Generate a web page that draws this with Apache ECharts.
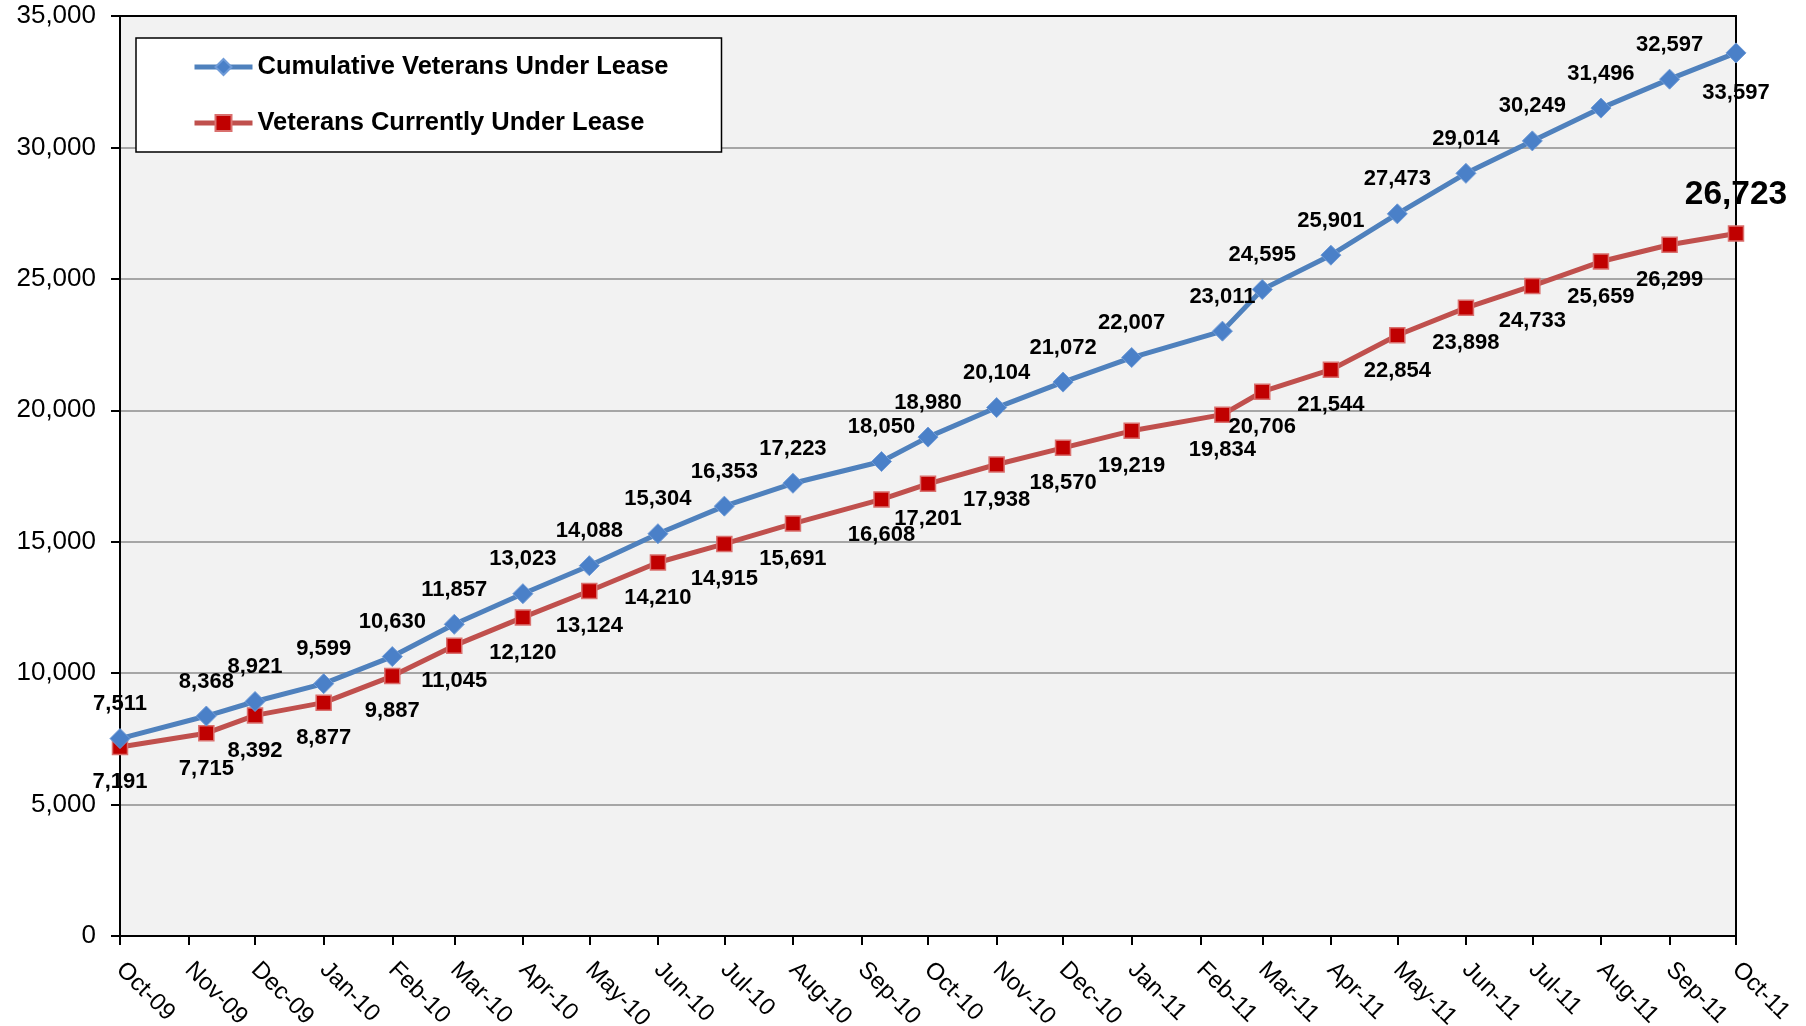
<!DOCTYPE html>
<html>
<head>
<meta charset="utf-8">
<script src="https://cdn.jsdelivr.net/npm/echarts@6/dist/echarts.min.js"></script>
<style>
  html, body { margin: 0; padding: 0; background: #ffffff; }
  #chart { width: 1806px; height: 1026px; }
</style>
</head>
<body>
<div id="chart"></div>
<script>
// ---- Data ----
const tickLabels = ['Oct-09','Nov-09','Dec-09','Jan-10','Feb-10','Mar-10','Apr-10','May-10','Jun-10','Jul-10','Aug-10','Sep-10','Oct-10','Nov-10','Dec-10','Jan-11','Feb-11','Mar-11','Apr-11','May-11','Jun-11','Jul-11','Aug-11','Sep-11','Oct-11'];
const pointDates = ['2009-10-01','2009-11-09','2009-12-01','2010-01-01','2010-02-01','2010-03-01','2010-04-01','2010-05-01','2010-06-01','2010-07-01','2010-08-01','2010-09-10','2010-10-01','2010-11-01','2010-12-01','2011-01-01','2011-02-11','2011-03-01','2011-04-01','2011-05-01','2011-06-01','2011-07-01','2011-08-01','2011-09-01','2011-10-01'];
const cumulativeVeterans = [7511, 8368, 8921, 9599, 10630, 11857, 13023, 14088, 15304, 16353, 17223, 18050, 18980, 20104, 21072, 22007, 23011, 24595, 25901, 27473, 29014, 30249, 31496, 32597, 33597];
const currentVeterans = [7191, 7715, 8392, 8877, 9887, 11045, 12120, 13124, 14210, 14915, 15691, 16608, 17201, 17938, 18570, 19219, 19834, 20706, 21544, 22854, 23898, 24733, 25659, 26299, 26723];
const seriesNames = ['Cumulative Veterans Under Lease', 'Veterans Currently Under Lease'];
const yTicks = { min: 0, max: 35000, interval: 5000 };

// ---- Helpers ----
const DAY = 86400000;
const MONTHS = ['Jan','Feb','Mar','Apr','May','Jun','Jul','Aug','Sep','Oct','Nov','Dec'];
function dateStrToDay(s) { const p = s.split('-').map(Number); return Math.round(Date.UTC(p[0], p[1] - 1, p[2]) / DAY); }
function labelToDay(l) { const p = l.split('-'); return Math.round(Date.UTC(2000 + Number(p[1]), MONTHS.indexOf(p[0]), 1) / DAY); }
const tickDays = tickLabels.map(labelToDay);
const pointDays = pointDates.map(dateStrToDay);
const fmt = v => Number(v).toLocaleString('en-US');

const FONT = "'Liberation Sans', Arial, sans-serif";

function buildData(values, lastLabel) {
  return values.map((v, i) => {
    const item = { value: [pointDays[i], v] };
    if (i === values.length - 1 && lastLabel) item.label = lastLabel;
    return item;
  });
}

const chart = echarts.init(document.getElementById('chart'), null, { renderer: 'canvas' });
const option = {
  animation: false,
  backgroundColor: '#ffffff',
  textStyle: { fontFamily: FONT },
  grid: {
    left: 120, right: 70, top: 16, bottom: 90,
    outerBoundsMode: 'none', containLabel: false,
    show: true, backgroundColor: '#f2f2f2', borderColor: '#000', borderWidth: 1.5
  },
  legend: {
    orient: 'vertical',
    left: 136, top: 38,
    padding: [14, 53, 14, 56],
    itemGap: 26,
    itemWidth: 58, itemHeight: 20,
    backgroundColor: '#ffffff',
    borderColor: '#000', borderWidth: 1.5,
    lineStyle: { width: 5 },
    textStyle: { fontFamily: FONT, fontWeight: 'bold', fontSize: 25.5, color: '#000', lineHeight: 30 },
    data: seriesNames
  },
  xAxis: [{
    type: 'value',
    min: tickDays[0], max: tickDays[tickDays.length - 1],
    axisLine: { show: true, onZero: false, lineStyle: { color: '#000', width: 2 } },
    axisTick: { show: true, customValues: tickDays, length: 9, lineStyle: { color: '#000', width: 2 } },
    axisLabel: {
      customValues: tickDays,
      rotate: -45, margin: 30,
      fontFamily: FONT, fontSize: 24, color: '#000',
      formatter: (val) => { const i = tickDays.indexOf(val); return i >= 0 ? tickLabels[i] : ''; }
    },
    splitLine: { show: false }
  }, {
    type: 'value', position: 'top',
    min: tickDays[0], max: tickDays[tickDays.length - 1],
    axisLine: { show: true, onZero: false, lineStyle: { color: '#000', width: 2 } },
    axisTick: { show: false }, axisLabel: { show: false }, splitLine: { show: false }
  }],
  yAxis: [{
    type: 'value',
    min: yTicks.min, max: yTicks.max, interval: yTicks.interval,
    axisLine: { show: true, lineStyle: { color: '#000', width: 2 } },
    axisTick: { show: true, length: 9, lineStyle: { color: '#000', width: 2 } },
    axisLabel: { margin: 24, fontFamily: FONT, fontSize: 26, color: '#000', formatter: fmt },
    splitLine: { show: true, lineStyle: { color: '#8c8c8c', width: 1.5 } }
  }, {
    type: 'value', position: 'right',
    min: yTicks.min, max: yTicks.max, interval: yTicks.interval,
    axisLine: { show: true, lineStyle: { color: '#000', width: 2 } },
    axisTick: { show: false }, axisLabel: { show: false }, splitLine: { show: false }
  }],
  series: [{
    name: seriesNames[0],
    type: 'line',
    xAxisIndex: 0, yAxisIndex: 0,
    symbol: 'diamond', symbolSize: 20,
    lineStyle: { color: '#4f81bd', width: 5 },
    itemStyle: { color: '#4a80c8', borderColor: '#6f9bd8', borderWidth: 1 },
    label: {
      show: true, position: 'top', distance: 13,
      fontFamily: FONT, fontWeight: 'bold', fontSize: 22, lineHeight: 22, color: '#000',
      formatter: p => fmt(p.value[1])
    },
    data: buildData(cumulativeVeterans, { position: 'bottom', distance: 19 }),
    z: 3
  }, {
    name: seriesNames[1],
    type: 'line',
    xAxisIndex: 0, yAxisIndex: 0,
    symbol: 'rect', symbolSize: 15,
    lineStyle: { color: '#c0504d', width: 5 },
    itemStyle: { color: '#c00000', borderColor: '#d9706e', borderWidth: 1.5 },
    label: {
      show: true, position: 'bottom', distance: 16,
      fontFamily: FONT, fontWeight: 'bold', fontSize: 22, lineHeight: 22, color: '#000',
      formatter: p => fmt(p.value[1])
    },
    data: buildData(currentVeterans, { position: 'top', distance: 14, fontSize: 33.5, lineHeight: 34 }),
    z: 2
  }]
};
chart.setOption(option);
</script>
</body>
</html>
